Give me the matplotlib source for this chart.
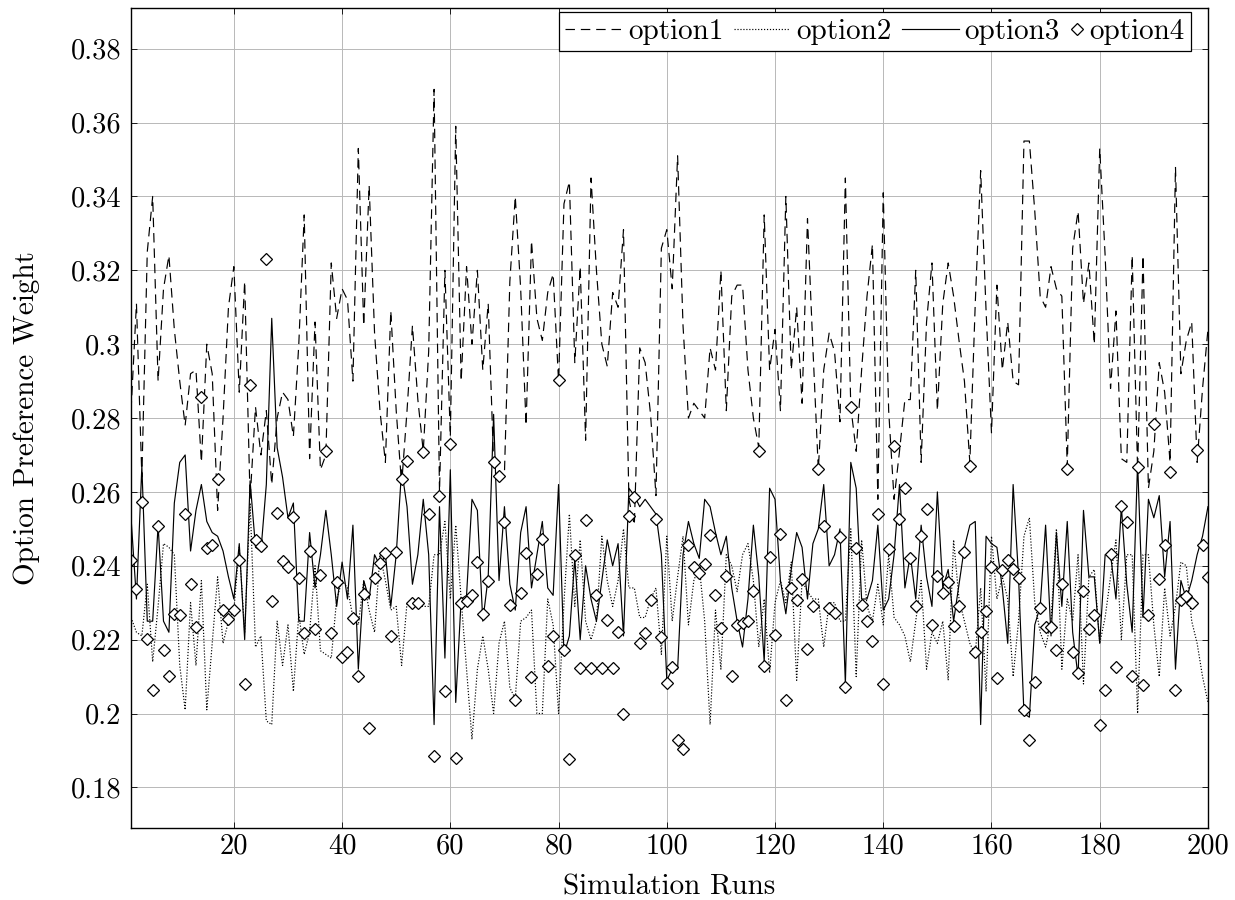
import numpy as np
import matplotlib
matplotlib.use("Agg")
from matplotlib import pyplot as plt
from matplotlib.legend_handler import HandlerLine2D

plt.rcParams['font.family'] = 'serif'
plt.rcParams['font.serif'] = ['cmr10', 'DejaVu Serif']
plt.rcParams['mathtext.fontset'] = 'cm'
plt.rcParams['axes.formatter.use_mathtext'] = True

# Data (runs 1..200)
option1 = [
    0.282, 0.311, 0.264, 0.325, 0.340, 0.290, 0.315, 0.324, 0.304, 0.290,
    0.278, 0.292, 0.293, 0.268, 0.300, 0.292, 0.255, 0.280, 0.310, 0.321,
    0.287, 0.317, 0.258, 0.283, 0.270, 0.282, 0.262, 0.280, 0.287, 0.285,
    0.275, 0.300, 0.335, 0.269, 0.306, 0.266, 0.270, 0.322, 0.307, 0.315,
    0.312, 0.290, 0.353, 0.305, 0.343, 0.303, 0.282, 0.268, 0.309, 0.282,
    0.262, 0.282, 0.305, 0.285, 0.271, 0.298, 0.369, 0.260, 0.320, 0.275,
    0.359, 0.290, 0.321, 0.300, 0.320, 0.293, 0.311, 0.268, 0.264, 0.265,
    0.317, 0.340, 0.315, 0.278, 0.328, 0.307, 0.301, 0.314, 0.319, 0.290,
    0.338, 0.344, 0.295, 0.321, 0.274, 0.345, 0.320, 0.300, 0.294, 0.314,
    0.310, 0.331, 0.258, 0.251, 0.299, 0.295, 0.281, 0.259, 0.326, 0.331,
    0.315, 0.351, 0.305, 0.280, 0.284, 0.282, 0.280, 0.299, 0.293, 0.320,
    0.282, 0.313, 0.316, 0.316, 0.293, 0.280, 0.272, 0.335, 0.293, 0.304,
    0.282, 0.340, 0.293, 0.310, 0.284, 0.334, 0.299, 0.266, 0.293, 0.303,
    0.298, 0.279, 0.345, 0.283, 0.271, 0.293, 0.313, 0.327, 0.258, 0.341,
    0.282, 0.258, 0.271, 0.285, 0.285, 0.320, 0.268, 0.306, 0.322, 0.282,
    0.311, 0.322, 0.313, 0.301, 0.290, 0.268, 0.311, 0.347, 0.309, 0.276,
    0.316, 0.293, 0.306, 0.290, 0.289, 0.355, 0.355, 0.336, 0.313, 0.310,
    0.321, 0.315, 0.313, 0.267, 0.326, 0.336, 0.311, 0.322, 0.300, 0.353,
    0.324, 0.288, 0.309, 0.269, 0.268, 0.324, 0.266, 0.324, 0.261, 0.271,
    0.295, 0.287, 0.268, 0.348, 0.292, 0.301, 0.306, 0.268, 0.288, 0.304,
]
option2 = [
    0.226, 0.222, 0.221, 0.235, 0.214, 0.229, 0.246, 0.245, 0.243, 0.213,
    0.201, 0.230, 0.213, 0.236, 0.201, 0.219, 0.237, 0.219, 0.225, 0.228,
    0.245, 0.222, 0.257, 0.218, 0.221, 0.198, 0.197, 0.225, 0.213, 0.224,
    0.206, 0.227, 0.216, 0.222, 0.240, 0.217, 0.216, 0.215, 0.231, 0.236,
    0.234, 0.226, 0.224, 0.236, 0.228, 0.222, 0.243, 0.236, 0.228, 0.229,
    0.213, 0.230, 0.229, 0.229, 0.229, 0.229, 0.243, 0.243, 0.252, 0.231,
    0.251, 0.231, 0.212, 0.193, 0.212, 0.221, 0.212, 0.200, 0.219, 0.225,
    0.207, 0.204, 0.225, 0.226, 0.228, 0.200, 0.200, 0.231, 0.224, 0.200,
    0.230, 0.254, 0.229, 0.247, 0.225, 0.220, 0.225, 0.248, 0.236, 0.229,
    0.236, 0.250, 0.234, 0.234, 0.226, 0.226, 0.231, 0.234, 0.216, 0.248,
    0.225, 0.237, 0.248, 0.224, 0.236, 0.240, 0.225, 0.197, 0.228, 0.212,
    0.243, 0.240, 0.233, 0.243, 0.246, 0.236, 0.218, 0.231, 0.211, 0.230,
    0.236, 0.230, 0.241, 0.209, 0.236, 0.233, 0.231, 0.231, 0.218, 0.230,
    0.230, 0.225, 0.225, 0.250, 0.210, 0.247, 0.229, 0.225, 0.235, 0.224,
    0.243, 0.226, 0.224, 0.221, 0.214, 0.225, 0.236, 0.212, 0.222, 0.219,
    0.225, 0.209, 0.247, 0.231, 0.225, 0.219, 0.216, 0.234, 0.206, 0.248,
    0.231, 0.237, 0.231, 0.210, 0.225, 0.248, 0.253, 0.230, 0.222, 0.218,
    0.225, 0.250, 0.212, 0.231, 0.225, 0.243, 0.208, 0.237, 0.239, 0.219,
    0.226, 0.237, 0.247, 0.220, 0.243, 0.243, 0.200, 0.243, 0.243, 0.224,
    0.210, 0.234, 0.221, 0.229, 0.241, 0.240, 0.225, 0.219, 0.210, 0.203,
]
option3 = [
    0.253, 0.231, 0.267, 0.225, 0.225, 0.251, 0.225, 0.222, 0.257, 0.268,
    0.270, 0.244, 0.255, 0.262, 0.252, 0.249, 0.248, 0.244, 0.237, 0.231,
    0.246, 0.220, 0.263, 0.245, 0.244, 0.262, 0.307, 0.272, 0.264, 0.253,
    0.257, 0.225, 0.225, 0.249, 0.234, 0.243, 0.255, 0.243, 0.229, 0.241,
    0.231, 0.251, 0.212, 0.236, 0.231, 0.243, 0.240, 0.243, 0.229, 0.243,
    0.266, 0.256, 0.235, 0.243, 0.258, 0.243, 0.197, 0.256, 0.215, 0.266,
    0.203, 0.231, 0.232, 0.258, 0.255, 0.225, 0.237, 0.281, 0.236, 0.256,
    0.235, 0.228, 0.249, 0.256, 0.234, 0.243, 0.252, 0.234, 0.232, 0.262,
    0.216, 0.221, 0.242, 0.220, 0.240, 0.231, 0.225, 0.236, 0.247, 0.240,
    0.246, 0.221, 0.261, 0.259, 0.256, 0.258, 0.256, 0.254, 0.243, 0.209,
    0.212, 0.212, 0.243, 0.252, 0.246, 0.242, 0.258, 0.256, 0.249, 0.243,
    0.248, 0.234, 0.225, 0.218, 0.231, 0.251, 0.237, 0.214, 0.261, 0.258,
    0.236, 0.227, 0.239, 0.249, 0.245, 0.231, 0.246, 0.250, 0.262, 0.240,
    0.243, 0.250, 0.208, 0.268, 0.261, 0.231, 0.231, 0.236, 0.251, 0.228,
    0.231, 0.243, 0.262, 0.234, 0.243, 0.231, 0.251, 0.237, 0.229, 0.260,
    0.234, 0.239, 0.225, 0.235, 0.245, 0.251, 0.252, 0.197, 0.248, 0.246,
    0.245, 0.234, 0.219, 0.262, 0.237, 0.200, 0.199, 0.224, 0.229, 0.251,
    0.221, 0.249, 0.229, 0.252, 0.222, 0.210, 0.255, 0.237, 0.237, 0.219,
    0.243, 0.243, 0.231, 0.256, 0.235, 0.222, 0.268, 0.226, 0.258, 0.253,
    0.259, 0.237, 0.252, 0.212, 0.236, 0.231, 0.236, 0.243, 0.248, 0.256,
]
option4 = [
    0.2416, 0.2336, 0.2574, 0.2203, 0.2065, 0.2509, 0.2173, 0.2102, 0.2270, 0.2268,
    0.2540, 0.2350, 0.2234, 0.2856, 0.2447, 0.2457, 0.2634, 0.2280, 0.2256, 0.2280,
    0.2416, 0.2081, 0.2890, 0.2471, 0.2453, 0.3230, 0.2305, 0.2544, 0.2412, 0.2398,
    0.2532, 0.2367, 0.2219, 0.2440, 0.2230, 0.2376, 0.2712, 0.2218, 0.2355, 0.2154,
    0.2166, 0.2259, 0.2102, 0.2324, 0.1960, 0.2367, 0.2408, 0.2435, 0.2211, 0.2437,
    0.2634, 0.2684, 0.2299, 0.2299, 0.2708, 0.2540, 0.1885, 0.2590, 0.2060, 0.2730,
    0.1880, 0.2300, 0.2305, 0.2320, 0.2409, 0.2270, 0.2360, 0.2680, 0.2644, 0.2518,
    0.2295, 0.2036, 0.2326, 0.2435, 0.2100, 0.2379, 0.2472, 0.2128, 0.2209, 0.2903,
    0.2171, 0.1877, 0.2429, 0.2123, 0.2524, 0.2123, 0.2320, 0.2123, 0.2252, 0.2123,
    0.2220, 0.2000, 0.2535, 0.2585, 0.2190, 0.2219, 0.2307, 0.2527, 0.2208, 0.2083,
    0.2126, 0.1928, 0.1904, 0.2457, 0.2398, 0.2380, 0.2405, 0.2483, 0.2320, 0.2231,
    0.2373, 0.2102, 0.2241, 0.2246, 0.2250, 0.2333, 0.2712, 0.2129, 0.2425, 0.2212,
    0.2486, 0.2037, 0.2339, 0.2308, 0.2365, 0.2176, 0.2290, 0.2661, 0.2509, 0.2285,
    0.2272, 0.2477, 0.2072, 0.2829, 0.2447, 0.2295, 0.2250, 0.2195, 0.2540, 0.2080,
    0.2445, 0.2724, 0.2527, 0.2610, 0.2420, 0.2290, 0.2480, 0.2553, 0.2241, 0.2373,
    0.2326, 0.2355, 0.2237, 0.2292, 0.2437, 0.2671, 0.2166, 0.2220, 0.2277, 0.2398,
    0.2096, 0.2388, 0.2416, 0.2392, 0.2367, 0.2009, 0.1928, 0.2086, 0.2285, 0.2234,
    0.2234, 0.2172, 0.2351, 0.2663, 0.2167, 0.2109, 0.2333, 0.2228, 0.2268, 0.1969,
    0.2065, 0.2431, 0.2127, 0.2562, 0.2519, 0.2102, 0.2667, 0.2077, 0.2268, 0.2785,
    0.2363, 0.2457, 0.2653, 0.2065, 0.2308, 0.2317, 0.2299, 0.2713, 0.2457, 0.2370,
]
runs = np.arange(1, len(option1) + 1)


class NarrowMarkerHandler(HandlerLine2D):
    # marker-only entry gets a short handle box, like the pgfplots legend
    def legend_artist(self, legend, orig_handle, fontsize, handlebox):
        handlebox.width = 0.45 * fontsize
        return super().legend_artist(legend, orig_handle, fontsize, handlebox)


fig = plt.figure(figsize=(12.35, 9), dpi=100)
ax = fig.add_axes([0.1061, 0.08, 0.872, 0.911])

lw = 0.85
ax.plot(runs, option1, color='k', linestyle=(0, (8, 5)), linewidth=lw, label='option1')
ax.plot(runs, option2, color='k', linestyle=(0, (1, 1.5)), linewidth=lw, label='option2')
ax.plot(runs, option3, color='k', linestyle='-', linewidth=lw, label='option3')
m4, = ax.plot(runs, option4, linestyle='none', marker='D', markersize=6.5, markerfacecolor='white',
              markeredgecolor='k', markeredgewidth=0.9, label='option4')

ax.set_xlim(1, 200)
ax.set_ylim(0.169, 0.391)
xticks = [20, 40, 60, 80, 100, 120, 140, 160, 180, 200]
yticks = [0.18, 0.2, 0.22, 0.24, 0.26, 0.28, 0.3, 0.32, 0.34, 0.36, 0.38]
ax.set_xticks(xticks)
ax.set_xticklabels([str(v) for v in xticks])
ax.set_yticks(yticks)
ax.set_yticklabels(['%g' % v for v in yticks])
ax.tick_params(direction='in', labelsize=20.5, length=4, width=0.6, top=True, right=True)
ax.tick_params(axis='x', pad=4)
ax.tick_params(axis='y', pad=7)
ax.grid(True, color='#b8b8b8', linewidth=0.7)
ax.set_axisbelow(True)
for s in ax.spines.values():
    s.set_linewidth(1.0)

ax.set_xlabel('Simulation Runs', fontsize=21, labelpad=10)
ax.set_ylabel('Option Preference Weight', fontsize=21, labelpad=22)

leg = ax.legend(loc='upper right', ncol=4, fontsize=21, frameon=True, fancybox=False,
                framealpha=1, edgecolor='k', handlelength=1.95, handletextpad=0.2,
                columnspacing=0.35, borderpad=0.22, borderaxespad=0.0,
                bbox_to_anchor=(0.984, 0.995),
                handler_map={m4: NarrowMarkerHandler()})
leg.get_frame().set_linewidth(0.9)

fig.savefig('out.png', dpi=100)
